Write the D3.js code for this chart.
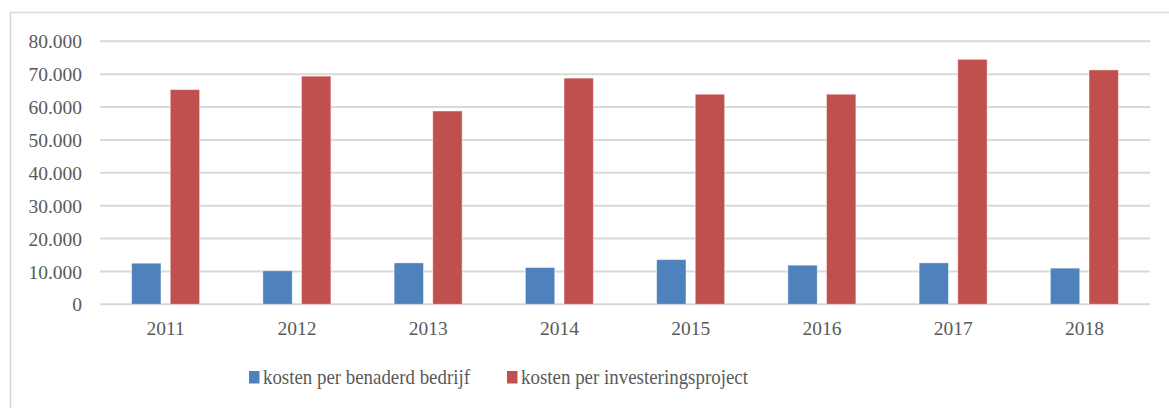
<!DOCTYPE html>
<html>
<head>
<meta charset="utf-8">
<script src="https://cdn.jsdelivr.net/npm/d3@7"></script>
<style>
  body { margin: 0; background: #fff; }
  text { font-family: "Liberation Serif", "DejaVu Serif", serif; fill: #595959; }
</style>
</head>
<body>
<div id="chart"></div>
<script>
// data
var years = ["2011", "2012", "2013", "2014", "2015", "2016", "2017", "2018"];
var perBedrijf = [12500, 10200, 12600, 11200, 13600, 11900, 12600, 11000];
var perProject = [65300, 69400, 58800, 68800, 63900, 63900, 74500, 71300];
var seriesNames = ["kosten per benaderd bedrijf", "kosten per investeringsproject"];
var yTicks = [0, 10000, 20000, 30000, 40000, 50000, 60000, 70000, 80000];

var width = 1169;
var height = 408;
var colors = ["#4f81bd", "#c0504d"];

var svg = d3.select("#chart")
    .append("svg")
    .attr("width", width)
    .attr("height", height);

// chart frame (only left and top edges are visible in the picture)
svg.append("path")
    .attr("d", "M10.5," + height + "V12.5H" + width)
    .attr("fill", "none")
    .attr("stroke", "#d9d9d9")
    .attr("stroke-width", 1.5);

var x = d3.scaleBand()
    .domain(years)
    .range([100, 1150]);

var x1 = d3.scaleBand()
    .domain([0, 1])
    .range([x.bandwidth() / 2 - 34, x.bandwidth() / 2 + 34])
    .paddingInner(0.24);

var y = d3.scaleLinear()
    .domain([0, 80000])
    .range([304.3, 41.3]);

var fmt = function(v) {
    return d3.format(",")(v).replace(/,/g, ".");
};

// gridlines
svg.append("g")
    .selectAll("line")
    .data(yTicks)
    .enter()
    .append("line")
    .attr("x1", 100)
    .attr("x2", 1150)
    .attr("y1", function(d) { return y(d); })
    .attr("y2", function(d) { return y(d); })
    .attr("stroke", "#d9d9d9")
    .attr("stroke-width", 2);

// y axis labels
var yAxis = svg.append("g")
    .attr("transform", "translate(82,0)")
    .call(d3.axisLeft(y).tickValues(yTicks).tickFormat(fmt).tickSize(0).tickPadding(0));
yAxis.select(".domain").remove();
yAxis.attr("font-family", null);
yAxis.selectAll("text")
    .attr("font-size", 19.5)
    .attr("fill", null)
    .attr("dy", "0.34em");

// bars
var rows = years.map(function(yr, i) {
    return { year: yr, values: [perBedrijf[i], perProject[i]] };
});

var groups = svg.append("g")
    .selectAll("g")
    .data(rows)
    .enter()
    .append("g")
    .attr("transform", function(d) { return "translate(" + x(d.year) + ",0)"; });

groups.selectAll("rect")
    .data(function(d) { return d.values; })
    .enter()
    .append("rect")
    .attr("x", function(d, i) { return x1(i); })
    .attr("width", x1.bandwidth())
    .attr("y", function(d) { return y(d); })
    .attr("height", function(d) { return y(0) - y(d); })
    .attr("fill", function(d, i) { return colors[i]; })
    .attr("stroke", "#ffffff")
    .attr("stroke-opacity", 0.45)
    .attr("stroke-width", 1);

// x axis labels
var xAxis = svg.append("g")
    .attr("transform", "translate(0,304.3)")
    .call(d3.axisBottom(x).tickSize(0).tickPadding(0));
xAxis.select(".domain").remove();
xAxis.attr("font-family", null);
xAxis.selectAll("text")
    .attr("font-size", 19.5)
    .attr("fill", null)
    .attr("dy", null)
    .attr("y", 31);

// legend
var legendX = [249, 507];
var legendLen = [207, 227];
var legend = svg.append("g")
    .selectAll("g")
    .data(seriesNames)
    .enter()
    .append("g")
    .attr("transform", function(d, i) { return "translate(" + legendX[i] + ",371)"; });

legend.append("rect")
    .attr("width", 10.5)
    .attr("height", 12.5)
    .attr("fill", function(d, i) { return colors[i]; });

legend.append("text")
    .attr("x", 14)
    .attr("y", 12.5)
    .attr("font-size", 22)
    .attr("textLength", function(d, i) { return legendLen[i]; })
    .attr("lengthAdjust", "spacingAndGlyphs")
    .text(function(d) { return d; });
</script>
</body>
</html>
